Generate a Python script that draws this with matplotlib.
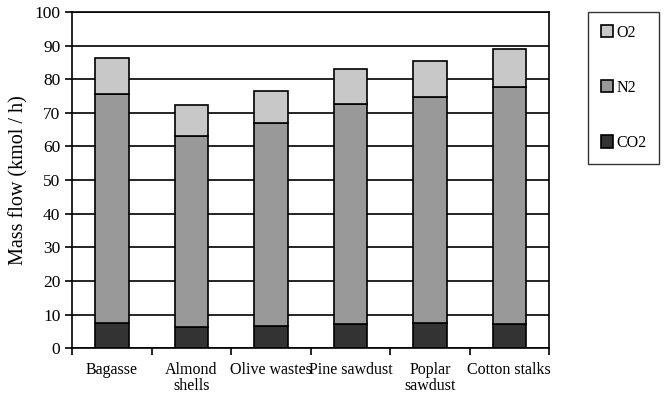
import numpy as np
import matplotlib
matplotlib.use('Agg')
import matplotlib.pyplot as plt

plt.rcParams['font.family'] = ['Liberation Serif', 'DejaVu Serif']

# biomass types and gas flows (kmol/h)
categories = ['Bagasse', 'Almond\nshells', 'Olive wastes', 'Pine sawdust', 'Poplar\nsawdust', 'Cotton stalks']
co2 = [7.4, 6.3, 6.7, 7.1, 7.4, 7.3]
n2 = [68.2, 56.7, 60.2, 65.5, 67.4, 70.4]
o2 = [10.7, 9.2, 9.6, 10.3, 10.5, 11.3]

fig = plt.figure(figsize=(6.68, 3.97), dpi=100)
ax = fig.add_axes([0.108, 0.123, 0.714, 0.847])

x = np.arange(len(categories))
w = 0.42
b1 = ax.bar(x, co2, w, color='#333333', edgecolor='black', linewidth=1.2, label='CO2', zorder=3)
b2 = ax.bar(x, n2, w, bottom=co2, color='#999999', edgecolor='black', linewidth=1.2, label='N2', zorder=3)
b3 = ax.bar(x, o2, w, bottom=np.array(co2) + np.array(n2), color='#c8c8c8', edgecolor='black',
            linewidth=1.2, label='O2', zorder=3)

ax.set_xlim(-0.5, len(categories) - 0.5)
ax.set_ylim(0, 100)
ax.set_yticks(np.arange(0, 101, 10))
ax.yaxis.grid(True, color='black', linewidth=1.2, zorder=0)
ax.set_xticks(x)
ax.set_xticklabels(categories, fontsize=11.5, linespacing=1.0)
ax.set_xticks(np.arange(-0.5, len(categories), 1), minor=True)
ax.tick_params(axis='x', which='major', length=0, pad=10)
ax.tick_params(axis='x', which='minor', length=5, width=1.2)
ax.tick_params(axis='y', labelsize=12.5, length=5, width=1.2)
ax.set_ylabel('Mass flow (kmol / h)', fontsize=14.5)
for s in ax.spines.values():
    s.set_linewidth(1.2)

fig.legend([b3, b2, b1], ['O2', 'N2', 'CO2'], loc='upper left', bbox_to_anchor=(0.88, 0.97),
           fontsize=11.5, frameon=True, fancybox=False, edgecolor='black', labelspacing=2.45,
           handlelength=0.8, handleheight=0.8, handletextpad=0.2, borderpad=0.8, borderaxespad=0)

fig.savefig('out.png', dpi=100)
